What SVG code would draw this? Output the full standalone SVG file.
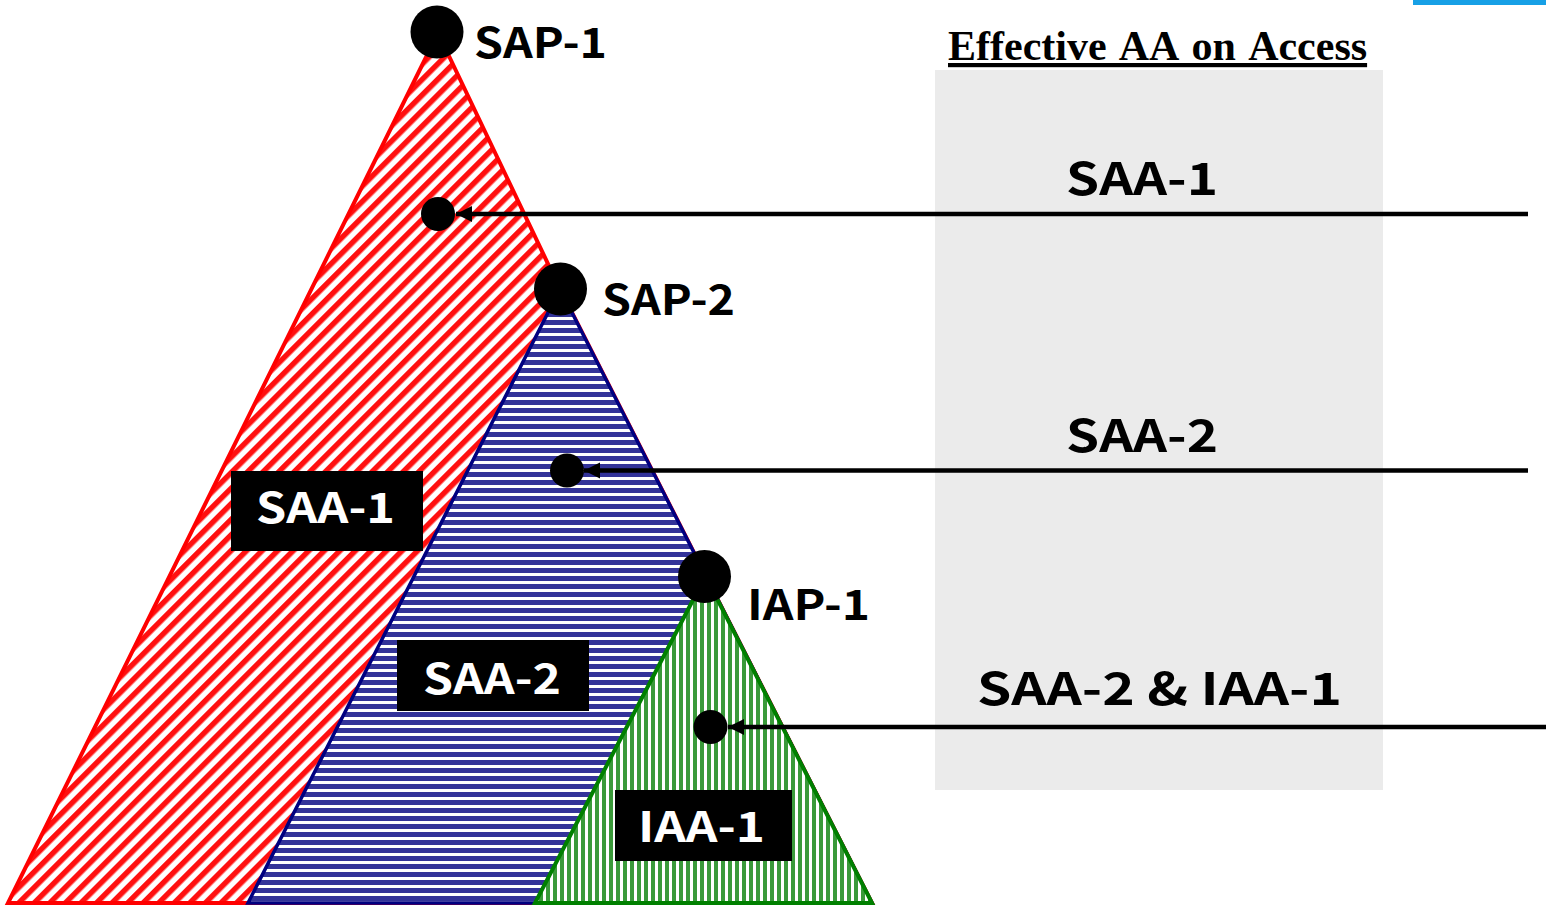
<svg xmlns="http://www.w3.org/2000/svg" width="1546" height="907" viewBox="0 0 1546 907">
  <defs>
    <!-- fill patterns for the three access areas -->
    <pattern id="redDiag" width="11" height="11" patternUnits="userSpaceOnUse" patternTransform="rotate(45)">
      <rect width="11" height="11" fill="#ffffff"/>
      <rect x="0" y="0" width="5.5" height="11" fill="#ff1010"/>
    </pattern>
    <pattern id="blueHoriz" width="8" height="8" patternUnits="userSpaceOnUse">
      <rect width="8" height="8" fill="#ffffff"/>
      <rect x="0" y="0" width="8" height="5" fill="#333399"/>
    </pattern>
    <pattern id="greenVert" width="7" height="7" patternUnits="userSpaceOnUse">
      <rect width="7" height="7" fill="#ffffff"/>
      <rect x="0" y="0" width="4" height="7" fill="#3a9a3a"/>
    </pattern>
    <marker id="arrow" markerUnits="userSpaceOnUse" markerWidth="17" markerHeight="17" refX="16" refY="8.5" orient="auto">
      <path d="M0,0.5 L16,8.5 L0,16.5 Z" fill="#000"/>
    </marker>
    <style>
      .lbl { font-family: "Noto Sans CJK KR", "Noto Sans", sans-serif; font-weight: 700; fill: #000; }
      .tag { font-family: "Noto Sans CJK KR", "Noto Sans", sans-serif; font-weight: 700; fill: #fff; }
      .point { fill: #000; }
      .conn { stroke: #000; stroke-width: 4.5; fill: none; marker-end: url(#arrow); }
      .tagbox { fill: #000; }
    </style>
  </defs>

  <rect width="1546" height="907" fill="#ffffff"/>
  <rect x="1413" y="0" width="133" height="5" fill="#17a0e6"/>

  <!-- effective authority panel -->
  <g id="panel">
    <rect x="935" y="70" width="448" height="720" fill="#ebebeb"/>
    <text x="948" y="60" font-family="Liberation Serif, serif" font-weight="700" font-size="42" word-spacing="4" text-decoration="underline" fill="#000">Effective AA on Access</text>
    <text class="lbl" x="1066" y="195" font-size="45" textLength="152" lengthAdjust="spacingAndGlyphs">SAA-1</text>
    <text class="lbl" x="1066" y="452" font-size="45" textLength="152" lengthAdjust="spacingAndGlyphs">SAA-2</text>
    <text class="lbl" x="977" y="705" font-size="45" textLength="365" lengthAdjust="spacingAndGlyphs">SAA-2 &amp; IAA-1</text>
  </g>

  <!-- SAP-1 area (right edge shares the line of the lower areas) -->
  <g id="sap1">
    <polygon points="438,33 8,903 872,903 560,289" fill="url(#redDiag)" stroke="#ff0000" stroke-width="4" stroke-linejoin="miter"/>
  </g>

  <!-- SAP-2 area -->
  <g id="sap2">
    <polygon points="560,289 248,903 872,903" fill="url(#blueHoriz)" stroke="#000080" stroke-width="3.5"/>
  </g>

  <!-- IAP-1 area -->
  <g id="iap1">
    <polygon points="705.5,576 535,903 872,903" fill="url(#greenVert)" stroke="#008000" stroke-width="4"/>
  </g>

  <!-- administrative points -->
  <g id="sap1-point">
    <circle class="point" cx="437" cy="32" r="26.5"/>
    <text class="lbl" x="474" y="58" font-size="42" textLength="133" lengthAdjust="spacingAndGlyphs">SAP-1</text>
  </g>
  <g id="sap2-point">
    <circle class="point" cx="560.5" cy="289" r="26.5"/>
    <text class="lbl" x="602" y="315" font-size="42" textLength="133" lengthAdjust="spacingAndGlyphs">SAP-2</text>
  </g>
  <g id="iap1-point">
    <circle class="point" cx="704.5" cy="576.5" r="26.5"/>
    <text class="lbl" x="747" y="620" font-size="42" textLength="123" lengthAdjust="spacingAndGlyphs">IAP-1</text>
  </g>

  <!-- area tags -->
  <g id="saa1-tag">
    <rect class="tagbox" x="231" y="471" width="192" height="80"/>
    <text class="tag" x="256" y="523" font-size="42" textLength="139" lengthAdjust="spacingAndGlyphs">SAA-1</text>
  </g>
  <g id="saa2-tag">
    <rect class="tagbox" x="397" y="640" width="192" height="71"/>
    <text class="tag" x="423" y="694" font-size="42" textLength="138" lengthAdjust="spacingAndGlyphs">SAA-2</text>
  </g>
  <g id="iaa1-tag">
    <rect class="tagbox" x="615" y="790" width="177" height="71"/>
    <text class="tag" x="638" y="842" font-size="42" textLength="127" lengthAdjust="spacingAndGlyphs">IAA-1</text>
  </g>

  <!-- access entries -->
  <g id="entry1"><circle class="point" cx="438" cy="214" r="17"/></g>
  <g id="entry2"><circle class="point" cx="567" cy="470.5" r="17"/></g>
  <g id="entry3"><circle class="point" cx="710.5" cy="727" r="17"/></g>

  <g id="connectors">
    <line class="conn" x1="1528" y1="214" x2="456" y2="214"/>
    <line class="conn" x1="1528" y1="470.5" x2="584" y2="470.5"/>
    <line class="conn" x1="1546" y1="727" x2="728" y2="727"/>
  </g>
</svg>
